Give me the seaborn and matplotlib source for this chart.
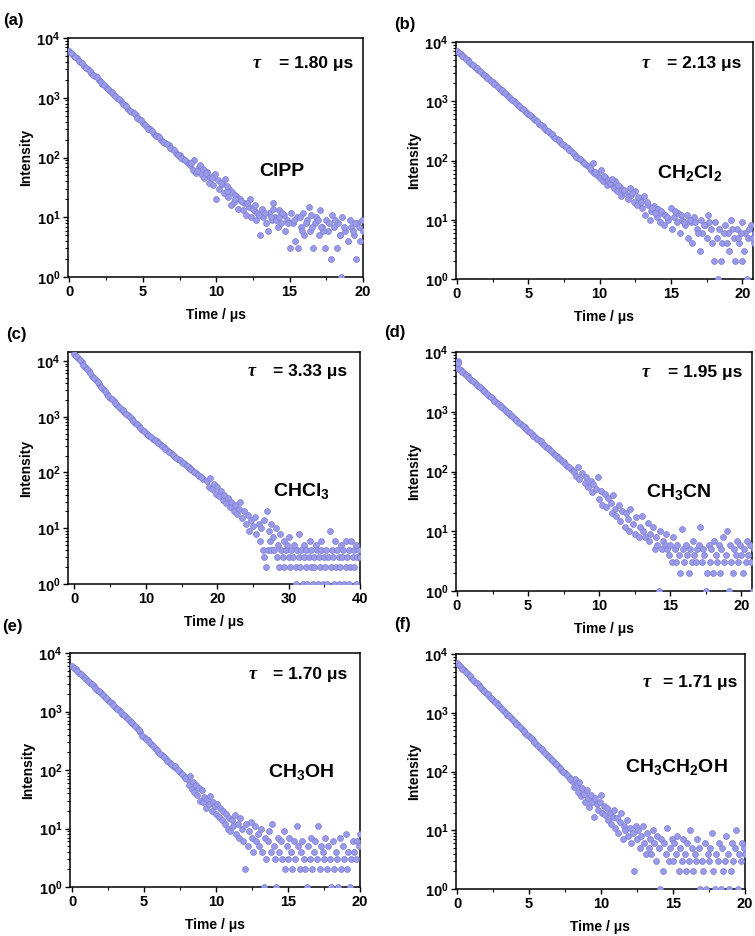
import numpy as np
import pandas as pd
import matplotlib
matplotlib.use("Agg")
import matplotlib.pyplot as plt
import seaborn as sns
from matplotlib.ticker import LogLocator, MultipleLocator, NullFormatter

# ---------------- data ----------------
T_A = [0, 0.25, 0.5, 0.75, 1.0, 1.25, 1.5, 1.75, 2.0, 2.25, 2.5, 2.75, 3.0, 3.25, 3.5, 3.75, 4.0, 4.25, 4.5, 4.75,
       5.0, 5.25, 5.5, 5.75, 6.0, 6.25, 6.5, 6.75, 7.0, 7.25, 7.5, 7.75, 8.0,
       8.2, 8.4, 8.5, 8.6, 8.8, 9.0, 9.1, 9.2, 9.4, 9.5, 9.6, 9.8, 9.9, 10.0, 10.1, 10.2, 10.4, 10.5, 10.6, 10.8,
       10.9, 11.0, 11.1, 11.2, 11.4, 11.5, 11.6, 11.8, 11.9, 12.0, 12.2, 12.3, 12.4, 12.6, 12.7, 12.8, 13.0, 13.1,
       13.2, 13.4, 13.5, 13.6, 13.8, 13.9, 14.0, 14.2, 14.3, 14.4, 14.6, 14.7, 14.8, 15.0, 15.1, 15.2, 15.4, 15.5,
       15.6, 15.8, 15.9, 16.0, 16.2, 16.3, 16.4, 16.6, 16.7, 16.8, 17.0, 17.1, 17.2, 17.4, 17.5, 17.6, 17.8, 17.9,
       18.0, 18.2, 18.3, 18.4, 18.5, 18.6, 18.8, 19.0, 19.1, 19.2, 19.4, 19.5, 19.6, 19.8, 19.9, 20.0]
I_A = [6000, 5250, 4550, 3950, 3450, 3050, 2600, 2300, 2000, 1720, 1520, 1300, 1150, 1000, 880, 760, 660, 580, 505, 440,
       380, 330, 300, 250, 230, 200, 175, 160, 140, 120, 110, 95, 85,
       75, 62, 90, 55, 70, 50, 65, 45, 58, 38, 48, 35, 52, 20, 42, 30, 36, 25, 44, 22,
       30, 16, 26, 18, 22, 14, 20, 13, 17, 11, 15, 20, 10, 13, 9, 12, 5, 14,
       10, 8, 6, 12, 9, 17, 10, 7, 13, 8, 11, 6, 9, 3, 12, 8, 4, 10,
       3, 7, 12, 5, 9, 15, 6, 3, 8, 10, 5, 13, 7, 3, 9, 6, 2, 11,
       7, 3, 8, 5, 1, 10, 6, 4, 9, 7, 5, 2, 8, 4, 9, 6]
T_A2 = [0.125, 0.375, 0.625, 0.875, 1.125, 1.375, 1.625, 1.875, 2.125, 2.375, 2.625, 2.875, 3.125, 3.375, 3.625, 3.875,
        4.125, 4.375, 4.625, 4.875, 5.125, 5.375, 5.625, 5.875, 6.125, 6.375, 6.625, 6.875, 7.125, 7.375, 7.625, 7.875,
        8.3, 8.7, 8.9, 9.3, 9.7, 10.3, 10.7, 11.3, 11.7, 12.1, 12.5, 12.9, 13.3, 13.7, 14.1, 14.5, 14.9, 15.3,
        15.7, 16.1, 16.5, 16.9, 17.3, 17.7, 18.1, 18.7, 19.3, 19.7, 10.75, 11.25, 12.65, 13.85, 14.25, 15.85,
        16.45, 17.15, 18.45, 19.45]
I_A2 = [5650, 4900, 4200, 3750, 3200, 2850, 2400, 2200, 1820, 1650, 1400, 1240, 1050, 960, 800, 720,
        610, 560, 460, 420, 350, 300, 280, 230, 220, 180, 170, 145, 135, 110, 100, 90,
        80, 60, 75, 55, 45, 38, 28, 24, 19, 17, 14, 11, 12, 10, 9, 12, 8, 9,
        10, 8, 7, 9, 6, 8, 9, 7, 6, 7, 33, 20, 16, 14, 10, 6,
        11, 7, 5, 8]

T_B = [0, 0.25, 0.5, 0.75, 1.0, 1.25, 1.5, 1.75, 2.0, 2.25, 2.5, 2.75, 3.0, 3.25, 3.5, 3.75, 4.0, 4.25, 4.5, 4.75,
       5.0, 5.25, 5.5, 5.75, 6.0, 6.25, 6.5, 6.75, 7.0, 7.25, 7.5, 7.75, 8.0, 8.25, 8.5, 8.75, 9.0,
       9.2, 9.4, 9.5, 9.6, 9.8, 10.0, 10.1, 10.2, 10.4, 10.5, 10.6, 10.8, 11.0, 11.1, 11.2, 11.4, 11.5, 11.6, 11.8,
       12.0, 12.1, 12.2, 12.4, 12.5, 12.6, 12.8, 13.0, 13.1, 13.2, 13.4, 13.5, 13.6, 13.8, 14.0, 14.1, 14.2, 14.4,
       14.5, 14.6, 14.8, 15.0, 15.1, 15.2, 15.4, 15.5, 15.6, 15.8, 16.0, 16.1, 16.2, 16.4, 16.5, 16.6, 16.8, 17.0,
       17.1, 17.2, 17.4, 17.5, 17.6, 17.8, 18.0, 18.1, 18.2, 18.3, 18.4, 18.5, 18.6, 18.8, 19.0, 19.1, 19.2, 19.4,
       19.5, 19.6, 19.8, 20.0, 20.1, 20.2, 20.3, 20.4, 20.6, 20.8, 20.9]
I_B = [7000, 6200, 5500, 4900, 4300, 3850, 3400, 3000, 2650, 2350, 2100, 1850, 1620, 1450, 1280, 1130, 1000, 880, 780, 690,
       600, 540, 480, 420, 375, 330, 295, 260, 230, 205, 180, 160, 142, 125, 110, 98, 87,
       80, 70, 90, 62, 58, 50, 68, 45, 52, 38, 46, 40, 34, 45, 30, 36, 25, 32, 28,
       22, 35, 26, 20, 30, 18, 22, 16, 25, 12, 18, 10, 14, 17, 11, 15, 9, 13,
       8, 12, 10, 16, 7, 11, 9, 13, 6, 10, 8, 12, 5, 9, 4, 11, 7, 3,
       10, 6, 8, 5, 12, 7, 2, 9, 5, 1, 7, 2, 4, 8, 6, 3, 10, 5,
       2, 7, 4, 9, 3, 6, 1, 5, 8, 4, 6]
T_B2 = [0.125, 0.375, 0.625, 0.875, 1.125, 1.375, 1.625, 1.875, 2.125, 2.375, 2.625, 2.875, 3.125, 3.375, 3.625, 3.875,
        4.125, 4.375, 4.625, 4.875, 5.125, 5.375, 5.625, 5.875, 6.125, 6.375, 6.625, 6.875, 7.125, 7.375, 7.625, 7.875,
        8.125, 8.375, 8.625, 8.875,
        9.3, 9.7, 10.3, 10.7, 10.9, 11.3, 11.7, 12.3, 12.7, 12.9, 13.3, 13.7, 13.9, 14.3, 14.7, 15.3, 15.7, 16.3,
        16.7, 17.3, 17.7, 18.7, 19.3, 19.7, 20.5, 20.7, 15.9, 16.9, 17.9, 18.9, 19.9, 20.0]
I_B2 = [6600, 5800, 5250, 4550, 4100, 3600, 3200, 2800, 2500, 2200, 1950, 1750, 1520, 1380, 1200, 1060,
        950, 820, 740, 640, 580, 500, 460, 390, 360, 310, 280, 240, 220, 190, 172, 150,
        135, 115, 105, 92,
        75, 65, 55, 42, 48, 38, 32, 28, 24, 20, 20, 16, 13, 14, 11, 14, 12, 10,
        9, 8, 9, 6, 7, 5, 7, 5, 9, 6, 4, 4, 6, 2]

T_C = [0, 0.5, 1.0, 1.5, 2.0, 2.5, 3.0, 3.5, 4.0, 4.5, 5.0, 5.5, 6.0, 6.5, 7.0, 7.5, 8.0, 8.5, 9.0, 9.5,
       10.0, 10.5, 11.0, 11.5, 12.0, 12.5, 13.0, 13.5, 14.0, 14.5, 15.0, 15.5, 16.0, 16.5, 17.0, 17.5, 18.0,
       18.5, 18.8, 19.0, 19.3, 19.5, 19.8, 20.0, 20.3, 20.5, 20.8, 21.0, 21.3, 21.5, 21.8, 22.0, 22.3, 22.5, 22.8,
       23.0, 23.2, 23.5, 23.8, 24.0, 24.3, 24.5, 24.8, 25.0, 25.3, 25.5, 25.8,
       26.0, 26.2, 26.4, 26.5, 26.6, 26.8, 27.0, 27.1, 27.2, 27.4, 27.5, 27.6, 27.8, 28.0, 28.2, 28.4, 28.5, 28.6,
       28.8, 29.0, 29.2, 29.3, 29.4, 29.6, 29.8, 30.0, 30.1, 30.2, 30.4, 30.6, 30.8, 31.0, 31.1, 31.2, 31.4, 31.5,
       31.6, 31.8, 32.0, 32.1, 32.2, 32.4, 32.5, 32.6, 32.8, 33.0, 33.1, 33.2, 33.4, 33.5, 33.6, 33.8, 34.0, 34.1,
       34.2, 34.4, 34.5, 34.6, 34.8, 35.0, 35.1, 35.2, 35.4, 35.5, 35.8, 36.0, 36.1, 36.2, 36.4, 36.5, 36.6, 36.8,
       37.0, 37.1, 37.2, 37.4, 37.5, 37.6, 37.8, 38.0, 38.1, 38.2, 38.4, 38.5, 38.6, 38.8, 39.0, 39.1, 39.2, 39.4,
       39.5, 39.6, 39.8, 40.0]
I_C = [13500, 11250, 9400, 7800, 6500, 5400, 4550, 3800, 3150, 2600, 2200, 1900, 1640, 1400, 1220, 1060, 915, 780, 690, 590,
       510, 455, 400, 360, 320, 285, 250, 220, 200, 175, 157, 140, 124, 110, 98, 87, 77,
       70, 55, 80, 50, 62, 42, 55, 38, 46, 32, 40, 28, 35, 24, 30, 20, 26, 18,
       22, 30, 15, 20, 12, 17, 9, 14, 11, 16, 8, 12,
       6, 10, 4, 3, 14, 2, 20, 4, 9, 6, 4, 12, 7, 4, 10, 3, 5, 2,
       8, 4, 3, 6, 2, 4, 5, 3, 7, 2, 4, 3, 5, 1, 2, 4, 3, 8,
       2, 4, 1, 5, 3, 2, 4, 1, 3, 6, 2, 4, 1, 3, 2, 5, 4, 1,
       3, 2, 6, 4, 1, 3, 2, 4, 1, 3, 9, 2, 4, 3, 1, 6, 2, 4,
       3, 1, 2, 5, 3, 4, 1, 2, 6, 3, 4, 1, 2, 6, 3, 4, 2, 5,
       1, 3, 4, 3]
T_C2 = [0.25, 0.75, 1.25, 1.75, 2.25, 2.75, 3.25, 3.75, 4.25, 4.75, 5.25, 5.75, 6.25, 6.75, 7.25, 7.75, 8.25, 8.75,
        9.25, 9.75, 10.25, 10.75, 11.25, 11.75, 12.25, 12.75, 13.25, 13.75, 14.25, 14.75, 15.25, 15.75, 16.25, 16.75,
        17.25, 17.75]
I_C2 = [12300, 10300, 8600, 7100, 6000, 4950, 4200, 3450, 2900, 2400, 2050, 1750, 1520, 1300, 1140, 980, 850, 730,
        640, 550, 480, 425, 380, 340, 300, 265, 235, 210, 185, 165, 148, 130, 117, 104,
        92, 82]

T_D = [0, 0.05, 0.1, 0.25, 0.5, 0.75, 1.0, 1.25, 1.5, 1.75, 2.0, 2.25, 2.5, 2.75, 3.0, 3.25, 3.5, 3.75, 4.0, 4.25, 4.5,
       4.75, 5.0, 5.25, 5.5, 5.75, 6.0, 6.25, 6.5, 6.75, 7.0, 7.25, 7.5, 7.75, 8.0,
       8.2, 8.4, 8.5, 8.6, 8.8, 9.0, 9.1, 9.2, 9.4, 9.5, 9.6, 9.8, 9.9, 10.0, 10.1, 10.2, 10.4, 10.5, 10.6, 10.8,
       10.9, 11.0, 11.1, 11.2, 11.4, 11.5, 11.6, 11.8, 11.9, 12.0, 12.1, 12.2, 12.4, 12.5, 12.6, 12.8, 12.9, 13.0,
       13.1, 13.2, 13.4, 13.5, 13.6, 13.8, 13.9, 14.0, 14.1, 14.2, 14.3, 14.4, 14.5, 14.6, 14.7, 14.8, 14.9, 15.0,
       15.1, 15.2, 15.3, 15.4, 15.5, 15.6, 15.7, 15.8, 15.9, 16.0, 16.1, 16.2, 16.3, 16.4, 16.5, 16.6, 16.7, 16.8,
       16.9, 17.0, 17.1, 17.2, 17.3, 17.4, 17.5, 17.6, 17.7, 17.8, 17.9, 18.0, 18.1, 18.2, 18.3, 18.4, 18.5, 18.6,
       18.7, 18.8, 18.9, 19.0, 19.1, 19.2, 19.3, 19.4, 19.5, 19.6, 19.7, 19.8, 19.9, 20.0, 20.1, 20.2, 20.3, 20.4,
       20.5, 20.6, 20.7, 20.8, 20.9]
I_D = [5500, 7000, 6500, 4950, 4400, 3900, 3400, 3050, 2700, 2380, 2100, 1850, 1640, 1450, 1300, 1140, 1000, 890, 790, 700, 620,
       550, 480, 430, 380, 335, 300, 260, 235, 205, 180, 160, 145, 125, 112,
       100, 85, 120, 75, 95, 65, 80, 55, 70, 45, 62, 50, 80, 35, 48, 28, 42, 25, 36, 30,
       20, 40, 24, 18, 28, 15, 22, 12, 20, 16, 10, 24, 13, 9, 17, 8, 12, 18,
       10, 8, 14, 7, 9, 12, 5, 8, 6, 1, 10, 5, 7, 6, 9, 5, 4, 6,
       3, 8, 5, 3, 6, 4, 2, 11, 5, 3, 6, 4, 2, 5, 3, 7, 4, 3,
       5, 6, 12, 3, 5, 4, 1, 2, 6, 3, 5, 2, 7, 4, 3, 6, 2, 5,
       8, 3, 4, 10, 1, 6, 3, 2, 5, 4, 7, 3, 6, 4, 2, 5, 3, 7,
       4, 6, 3, 1, 5]
T_D2 = [0.125, 0.375, 0.625, 0.875, 1.125, 1.375, 1.625, 1.875, 2.125, 2.375, 2.625, 2.875, 3.125, 3.375, 3.625, 3.875,
        4.125, 4.375, 4.625, 4.875, 5.125, 5.375, 5.625, 5.875, 6.125, 6.375, 6.625, 6.875, 7.125, 7.375, 7.625, 7.875]
I_D2 = [5200, 4650, 4150, 3650, 3250, 2850, 2550, 2230, 1980, 1740, 1540, 1370, 1220, 1070, 940, 840,
        740, 660, 580, 510, 455, 400, 355, 320, 280, 245, 220, 190, 170, 150, 135, 118]

T_E = [0, 0.25, 0.5, 0.75, 1.0, 1.25, 1.5, 1.75, 2.0, 2.25, 2.5, 2.75, 3.0, 3.25, 3.5, 3.75, 4.0, 4.25, 4.5, 4.75,
       5.0, 5.25, 5.5, 5.75, 6.0, 6.25, 6.5, 6.75, 7.0, 7.25, 7.5, 7.75,
       8.0, 8.1, 8.2, 8.3, 8.4, 8.5, 8.6, 8.7, 8.8, 8.9, 9.0, 9.1, 9.2, 9.3, 9.4, 9.5, 9.6, 9.7, 9.8, 9.9,
       10.0, 10.1, 10.2, 10.3, 10.4, 10.5, 10.6, 10.7, 10.8, 10.9, 11.0, 11.1, 11.2, 11.3, 11.4, 11.5, 11.6, 11.7,
       11.8, 11.9, 12.0, 12.1, 12.2, 12.3, 12.4, 12.5, 12.6, 12.7, 12.8, 12.9, 13.0, 13.1, 13.2, 13.3, 13.4, 13.5,
       13.6, 13.7, 13.8, 13.9, 14.0, 14.1, 14.2, 14.3, 14.4, 14.5, 14.6, 14.7, 14.8, 14.9, 15.0, 15.1, 15.2, 15.3,
       15.4, 15.5, 15.6, 15.7, 15.8, 15.9, 16.0, 16.1, 16.2, 16.3, 16.4, 16.5, 16.6, 16.7, 16.8, 16.9, 17.0, 17.1,
       17.2, 17.3, 17.4, 17.5, 17.6, 17.7, 17.8, 17.9, 18.0, 18.1, 18.2, 18.3, 18.4, 18.5, 18.6, 18.7, 18.8, 18.9,
       19.0, 19.1, 19.2, 19.3, 19.4, 19.5, 19.6, 19.7, 19.8, 19.9, 20.0]
I_E = [6000, 5250, 4600, 4050, 3550, 3100, 2700, 2370, 2070, 1810, 1580, 1380, 1200, 1050, 920, 800, 700, 610, 525, 440,
       365, 320, 280, 240, 205, 178, 155, 135, 118, 110, 92, 78,
       70, 55, 80, 48, 62, 42, 55, 38, 50, 30, 45, 28, 35, 22, 32, 26, 36, 20, 28, 24,
       18, 26, 16, 22, 14, 20, 12, 18, 10, 15, 9, 14, 11, 17, 8, 12, 7, 15,
       10, 6, 2, 12, 5, 9, 13, 7, 4, 11, 6, 8, 5, 10, 4, 1, 7, 3,
       6, 9, 4, 12, 5, 3, 1, 7, 4, 6, 3, 9, 2, 5, 3, 7, 4, 2,
       6, 3, 11, 5, 2, 4, 6, 3, 2, 1, 5, 3, 7, 2, 4, 6, 3, 11,
       2, 5, 4, 3, 7, 2, 5, 3, 1, 6, 2, 4, 3, 1, 7, 2, 5, 3,
       8, 2, 4, 1, 3, 6, 4, 3, 6, 5, 8]
T_E2 = [0.125, 0.375, 0.625, 0.875, 1.125, 1.375, 1.625, 1.875, 2.125, 2.375, 2.625, 2.875, 3.125, 3.375, 3.625, 3.875,
        4.125, 4.375, 4.625, 4.875, 5.125, 5.375, 5.625, 5.875, 6.125, 6.375, 6.625, 6.875, 7.125, 7.375, 7.625, 7.875]
I_E2 = [5600, 4900, 4300, 3800, 3300, 2900, 2530, 2200, 1940, 1690, 1480, 1290, 1120, 980, 860, 750,
        650, 565, 480, 380, 340, 300, 260, 222, 190, 165, 145, 125, 115, 100, 85, 72]

T_F = [0, 0.25, 0.5, 0.75, 1.0, 1.25, 1.5, 1.75, 2.0, 2.25, 2.5, 2.75, 3.0, 3.25, 3.5, 3.75, 4.0, 4.25, 4.5, 4.75,
       5.0, 5.25, 5.5, 5.75, 6.0, 6.25, 6.5, 6.75, 7.0, 7.25, 7.5, 7.75,
       8.0, 8.1, 8.2, 8.3, 8.4, 8.5, 8.6, 8.7, 8.8, 8.9, 9.0, 9.1, 9.2, 9.3, 9.4, 9.5, 9.6, 9.7, 9.8, 9.9,
       10.0, 10.1, 10.2, 10.3, 10.4, 10.5, 10.6, 10.7, 10.8, 10.9, 11.0, 11.1, 11.2, 11.3, 11.4, 11.5, 11.6, 11.7,
       11.8, 11.9, 12.0, 12.1, 12.2, 12.3, 12.4, 12.5, 12.6, 12.7, 12.8, 12.9, 13.0, 13.1, 13.2, 13.3, 13.4, 13.5,
       13.6, 13.7, 13.8, 13.9, 14.0, 14.1, 14.2, 14.3, 14.4, 14.5, 14.6, 14.7, 14.8, 14.9, 15.0, 15.1, 15.2, 15.3,
       15.4, 15.5, 15.6, 15.7, 15.8, 15.9, 16.0, 16.1, 16.2, 16.3, 16.4, 16.5, 16.6, 16.7, 16.8, 16.9, 17.0, 17.1,
       17.2, 17.3, 17.4, 17.5, 17.6, 17.7, 17.8, 17.9, 18.0, 18.1, 18.2, 18.3, 18.4, 18.5, 18.6, 18.7, 18.8, 18.9,
       19.0, 19.1, 19.2, 19.3, 19.4, 19.5, 19.6, 19.7, 19.8, 19.9, 20.0]
I_F = [7000, 6100, 5250, 4550, 3950, 3400, 2950, 2560, 2200, 1920, 1660, 1440, 1250, 1080, 930, 810, 700, 610, 525, 455,
       395, 340, 295, 255, 220, 190, 165, 145, 125, 108, 93, 81,
       70, 55, 75, 60, 45, 65, 38, 52, 42, 30, 48, 35, 25, 40, 30, 17, 35, 28, 22, 30,
       40, 20, 26, 18, 24, 15, 20, 13, 17, 22, 11, 16, 9, 14, 20, 7, 12, 10,
       15, 8, 11, 6, 9, 2, 12, 7, 10, 5, 8, 12, 6, 4, 9, 5, 7, 4,
       10, 6, 3, 8, 5, 1, 7, 2, 6, 4, 11, 3, 5, 7, 3, 6, 4, 8,
       2, 5, 3, 7, 4, 2, 6, 3, 10, 5, 2, 4, 3, 7, 5, 1, 3, 2,
       6, 1, 4, 3, 5, 9, 2, 1, 4, 3, 6, 1, 5, 2, 3, 8, 4, 1,
       2, 6, 3, 5, 10, 1, 4, 3, 6, 5, 4]
T_F2 = [0.125, 0.375, 0.625, 0.875, 1.125, 1.375, 1.625, 1.875, 2.125, 2.375, 2.625, 2.875, 3.125, 3.375, 3.625, 3.875,
        4.125, 4.375, 4.625, 4.875, 5.125, 5.375, 5.625, 5.875, 6.125, 6.375, 6.625, 6.875, 7.125, 7.375, 7.625, 7.875]
I_F2 = [6550, 5650, 4900, 4250, 3670, 3180, 2750, 2380, 2060, 1790, 1550, 1340, 1160, 1000, 870, 755,
        655, 565, 490, 425, 365, 318, 275, 238, 205, 178, 155, 134, 116, 100, 87, 76]

PANELS = ["(a)", "(b)", "(c)", "(d)", "(e)", "(f)"]
SOLVENTS = ["ClPP", r"CH$_2$Cl$_2$", r"CHCl$_3$", r"CH$_3$CN", r"CH$_3$OH", r"CH$_3$CH$_2$OH"]
TAUS = ["1.80", "2.13", "3.33", "1.95", "1.70", "1.71"]
XMAX = [20, 20.75, 40, 20.75, 20, 20]
XMIN = [-0.1, -0.07, -0.9, -0.07, -0.14, -0.07]
YMAX = [1e4, 1e4, 1.45e4, 1e4, 1e4, 1e4]
XMAJ = [5, 5, 10, 5, 5, 5]

data = [(T_A + T_A2, I_A + I_A2), (T_B + T_B2, I_B + I_B2), (T_C + T_C2, I_C + I_C2),
        (T_D + T_D2, I_D + I_D2), (T_E + T_E2, I_E + I_E2), (T_F + T_F2, I_F + I_F2)]

# ---------------- layout (pixel boxes: left, top, right, bottom) ----------------
W, H = 755, 936
BOXES = [(68, 38, 363, 277), (456, 42, 753, 279),
         (68, 352, 360, 584), (456, 352, 752, 591),
         (70, 653, 360, 887), (456, 654, 745, 889)]
LABEL_POS = [(3, 20), (394, 25), (6, 334), (384, 332), (2, 626), (394, 625)]
TAU_POS = [(0.966, 0.895), (0.96, 0.91), (0.955, 0.914), (0.966, 0.916), (0.955, 0.906), (0.972, 0.877)]
TAU_SYM_X = [0.64, 0.64, 0.63, 0.64, 0.63, 0.66]
SOLV_POS = [(0.725, 0.44), (0.785, 0.447), (0.80, 0.40), (0.753, 0.414), (0.796, 0.49), (0.761, 0.52)]

sns.set_theme(style="ticks")
plt.rcParams["font.family"] = ["Liberation Sans", "DejaVu Sans"]
plt.rcParams["font.weight"] = "bold"
plt.rcParams["axes.labelweight"] = "bold"
plt.rcParams["text.color"] = "black"
plt.rcParams["axes.labelcolor"] = "black"
plt.rcParams["xtick.color"] = "black"
plt.rcParams["ytick.color"] = "black"
plt.rcParams["axes.edgecolor"] = "black"
plt.rcParams["mathtext.fontset"] = "custom"
plt.rcParams["mathtext.rm"] = "Liberation Sans:bold"
plt.rcParams["mathtext.bf"] = "Liberation Sans:bold"
plt.rcParams["mathtext.it"] = "Liberation Sans:bold:italic"
plt.rcParams["mathtext.default"] = "rm"

fig = plt.figure(figsize=(W / 100, H / 100), dpi=100)

for k, ((t, inten), box) in enumerate(zip(data, BOXES)):
    l, tp, r, b = box
    ax = fig.add_axes([l / W, 1 - b / H, (r - l) / W, (b - tp) / H])
    df = pd.DataFrame({"t": t, "I": inten})
    sns.scatterplot(data=df, x="t", y="I", ax=ax, s=18, color="#9A9AE8",
                    edgecolor="#7C7CD6", linewidth=0.5, legend=False, zorder=3)
    ax.set_yscale("log")
    ax.set_ylim(1, YMAX[k])
    ax.set_xlim(XMIN[k], XMAX[k])
    ax.xaxis.set_major_locator(MultipleLocator(XMAJ[k]))
    ax.xaxis.set_minor_locator(MultipleLocator(XMAJ[k] / 2))
    ax.yaxis.set_major_locator(LogLocator(base=10, numticks=10))
    ax.yaxis.set_minor_locator(LogLocator(base=10, subs=np.arange(2, 10), numticks=20))
    ax.yaxis.set_minor_formatter(NullFormatter())
    for sp in ax.spines.values():
        sp.set_linewidth(1.1)
        sp.set_color("black")
        sp.set_visible(True)
    ax.tick_params(axis="both", which="major", direction="out", length=3.5, width=1.0,
                   labelsize=10.5, color="black", labelcolor="black", pad=2)
    ax.tick_params(axis="both", which="minor", direction="out", length=2, width=0.8, color="black")
    for lab in ax.get_xticklabels() + ax.get_yticklabels():
        lab.set_fontweight("bold")
    ax.set_xlabel("Time / μs", fontsize=10, fontweight="bold", color="black")
    ax.set_ylabel("Intensity", fontsize=10, fontweight="bold", color="black")
    ax.xaxis.set_label_coords(0.5, -31 / (b - tp))
    ax.yaxis.set_label_coords(-35 / (r - l), 0.5)

    tx, ty = TAU_POS[k]
    ax.text(tx, ty, "= " + TAUS[k] + " μs", transform=ax.transAxes, ha="right", va="center",
            fontsize=12.5, fontweight="bold", color="black")
    ax.text(TAU_SYM_X[k], ty, "τ", transform=ax.transAxes, ha="center", va="center",
            fontsize=13, fontweight="bold", fontstyle="italic", color="black",
            family=["Liberation Serif", "DejaVu Serif"])
    sx, sy = SOLV_POS[k]
    ax.text(sx, sy, SOLVENTS[k], transform=ax.transAxes, ha="center", va="center",
            fontsize=14, fontweight="bold", color="black")

    lx, ly = LABEL_POS[k]
    fig.text(lx / W, 1 - ly / H, PANELS[k], ha="left", va="center", fontsize=12,
             fontweight="bold", color="black")

fig.savefig("out.png", dpi=100)
